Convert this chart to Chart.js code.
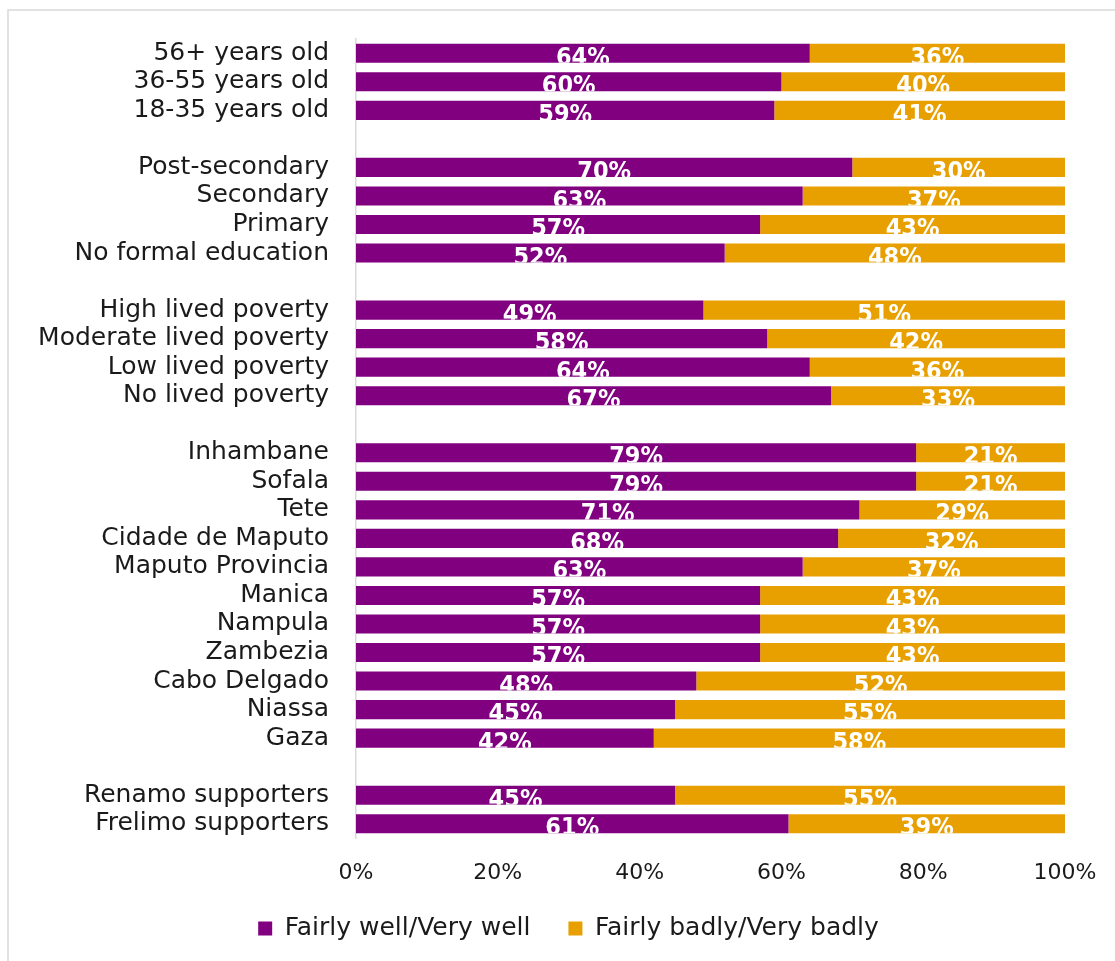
<!DOCTYPE html>
<html>
<head>
<meta charset="utf-8">
<script src="https://cdn.jsdelivr.net/npm/chart.js@4/dist/chart.umd.min.js"></script>
<style>
  html, body { margin: 0; padding: 0; background: #fff; }
  #wrap { width: 1115px; height: 961px; }
</style>
</head>
<body>
<div id="wrap"><canvas id="govChart" width="1115" height="961"></canvas></div>
<script>
// rows top to bottom; empty strings are spacer rows between groups
const categories = [
  '56+ years old', '36-55 years old', '18-35 years old', '',
  'Post-secondary', 'Secondary', 'Primary', 'No formal education', '',
  'High lived poverty', 'Moderate lived poverty', 'Low lived poverty', 'No lived poverty', '',
  'Inhambane', 'Sofala', 'Tete', 'Cidade de Maputo', 'Maputo Provincia', 'Manica',
  'Nampula', 'Zambezia', 'Cabo Delgado', 'Niassa', 'Gaza', '',
  'Renamo supporters', 'Frelimo supporters'
];

const wellValues = [
  64, 60, 59, null,
  70, 63, 57, 52, null,
  49, 58, 64, 67, null,
  79, 79, 71, 68, 63, 57, 57, 57, 48, 45, 42, null,
  45, 61
];

const badlyValues = [
  36, 40, 41, null,
  30, 37, 43, 48, null,
  51, 42, 36, 33, null,
  21, 21, 29, 32, 37, 43, 43, 43, 52, 55, 58, null,
  55, 39
];

const xTicks = [0, 20, 40, 60, 80, 100];

const PURPLE = '#800080';
const ORANGE = '#E8A000';
const TEXT = '#1a1a1a';
const FONT = "'DejaVu Sans', sans-serif";

// white percentage labels inside each segment
const segmentLabels = {
  id: 'segmentLabels',
  afterDatasetsDraw(chart) {
    const ctx = chart.ctx;
    ctx.save();
    ctx.font = "bold 25px 'DejaVu Sans Condensed', 'DejaVu Sans', sans-serif";
    ctx.fillStyle = '#fff';
    ctx.textAlign = 'center';
    ctx.textBaseline = 'alphabetic';
    chart.data.datasets.forEach((ds, di) => {
      const meta = chart.getDatasetMeta(di);
      meta.data.forEach((bar, i) => {
        const v = ds.data[i];
        if (v === null || v === undefined) return;
        const p = bar.getProps(['x', 'y', 'base', 'height'], true);
        const left = Math.min(p.x, p.base);
        const right = Math.max(p.x, p.base);
        const top = p.y - p.height / 2;
        const bottom = p.y + p.height / 2;
        ctx.save();
        ctx.beginPath();
        ctx.rect(left, top, right - left, bottom - top);
        ctx.clip();
        ctx.fillText(v + '%', (left + right) / 2, bottom + 2);
        ctx.restore();
      });
    });
    ctx.restore();
  }
};

// light frame around the whole figure; legend nudged under the plot
const frame = {
  id: 'frame',
  afterLayout(chart) {
    const lg = chart.legend;
    if (!lg) return;
    lg.left += 36;
    lg.right += 36;
    lg.top -= 10;
    lg.bottom -= 10;
  },
  beforeDraw(chart) {
    const ctx = chart.ctx;
    ctx.save();
    ctx.strokeStyle = '#d9d9d9';
    ctx.lineWidth = 1.5;
    ctx.strokeRect(8, 10, 1200, 1000);
    ctx.restore();
  }
};

new Chart(document.getElementById('govChart').getContext('2d'), {
  type: 'bar',
  data: {
    labels: categories,
    datasets: [
      {
        label: 'Fairly well/Very well',
        data: wellValues,
        backgroundColor: PURPLE,
        borderWidth: 0,
        categoryPercentage: 1,
        barPercentage: 0.67
      },
      {
        label: 'Fairly badly/Very badly',
        data: badlyValues,
        backgroundColor: ORANGE,
        borderWidth: 0,
        categoryPercentage: 1,
        barPercentage: 0.67
      }
    ]
  },
  options: {
    indexAxis: 'y',
    responsive: false,
    animation: false,
    layout: { padding: { top: 39, left: 0, right: 50, bottom: 0 } },
    scales: {
      x: {
        stacked: true,
        min: 0,
        max: 100,
        afterBuildTicks(scale) {
          scale.ticks = xTicks.map(v => ({ value: v }));
        },
        afterFit(scale) { scale.height = 50; },
        grid: { display: false, drawTicks: true, tickLength: 4 },
        border: { display: false },
        ticks: {
          padding: 18,
          color: TEXT,
          font: { family: FONT, size: 22 },
          callback: v => v + '%'
        }
      },
      y: {
        stacked: true,
        afterFit(scale) { scale.width = 356; },
        grid: { display: false, drawTicks: true, tickLength: 23 },
        border: { display: true, color: '#d9d9d9', width: 1.5 },
        ticks: {
          padding: 4,
          color: TEXT,
          autoSkip: false,
          font: { family: FONT, size: 25 }
        }
      }
    },
    plugins: {
      legend: {
        position: 'bottom',
        labels: {
          boxWidth: 14,
          boxHeight: 14,
          padding: 38,
          color: TEXT,
          font: { family: FONT, size: 25 }
        }
      },
      tooltip: { enabled: false }
    }
  },
  plugins: [segmentLabels, frame]
});
</script>
</body>
</html>
